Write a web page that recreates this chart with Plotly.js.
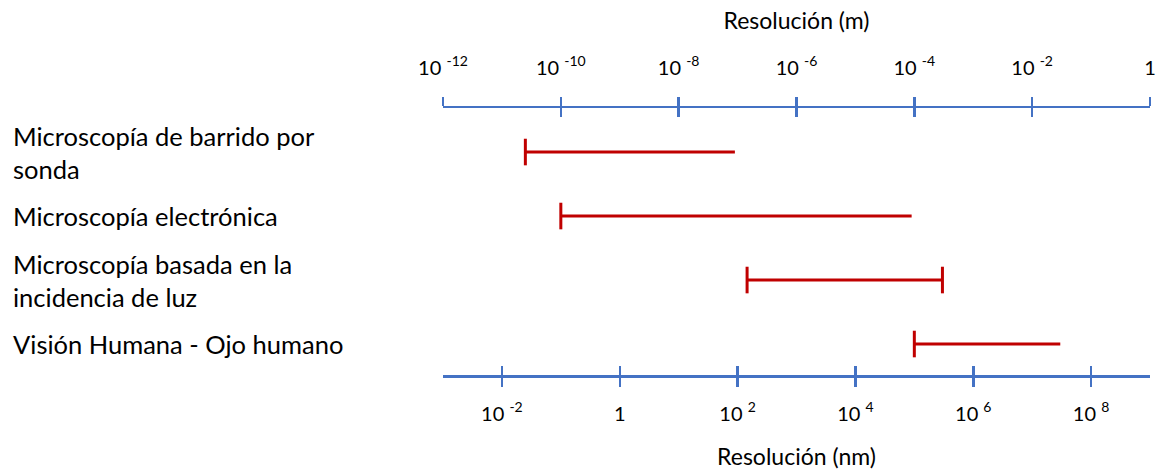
<!DOCTYPE html>
<html>
<head>
<meta charset="utf-8">
<script src="https://cdn.plot.ly/plotly-3.0.1.min.js"></script>
<style>html,body{margin:0;padding:0;background:#fff;}#chart{width:1163px;height:472px;}</style>
</head>
<body>
<div id="chart"></div>
<script>
// ---- data ----
const categories = [
  "Microscopía de barrido por<br>sonda",
  "Microscopía electrónica",
  "Microscopía basada en la<br>incidencia de luz",
  "Visión Humana - Ojo humano"
];
const resMin_m = [2.5e-11, 1e-10, 1.45e-7, 1e-4];
const resMax_m = [9e-8, 9e-5, 3e-4, 3e-2];
const capAtMax = [false, false, true, false];

const tickVals_m = [1e-12, 1e-10, 1e-8, 1e-6, 1e-4, 1e-2, 1];
const tickText_m = ["10 <sup>-12</sup>", "10 <sup>-10</sup>", "10 <sup>-8</sup>", "10 <sup>-6</sup>", "10 <sup>-4</sup>", "10 <sup>-2</sup>", "1"];
const tickVals_nm = [1e-2, 1, 1e2, 1e4, 1e6, 1e8];
const tickText_nm = ["10 <sup>-2</sup>", "1", "10 <sup>2</sup>", "10 <sup>4</sup>", "10 <sup>6</sup>", "10 <sup>8</sup>"];

// ---- style ----
const BLUE = "#4472C4";
const RED = "#C00000";
const FONT = "Lato, 'Open Sans', sans-serif";

const traces = [];
categories.forEach((c, i) => {
  traces.push({
    type: "scatter", mode: "lines", xaxis: "x", yaxis: "y",
    x: [resMin_m[i], resMax_m[i]], y: [c, c],
    line: {color: RED, width: 3}, hoverinfo: "skip", showlegend: false
  });
});
const capX = [], capY = [];
categories.forEach((c, i) => {
  capX.push(resMin_m[i]); capY.push(c);
  if (capAtMax[i]) { capX.push(resMax_m[i]); capY.push(c); }
});
traces.push({
  type: "scatter", mode: "markers", xaxis: "x", yaxis: "y",
  x: capX, y: capY,
  marker: {symbol: "line-ns", size: 19, color: RED, line: {color: RED, width: 3}},
  hoverinfo: "skip", showlegend: false
});
// empty traces so the overlay axes are registered
["x2", "x3", "x4"].forEach(ax => traces.push({
  type: "scatter", mode: "markers", xaxis: ax, yaxis: "y", x: [], y: [],
  hoverinfo: "skip", showlegend: false
}));

const tickCommon = {ticklen: 9, tickwidth: 2.5, tickcolor: BLUE, showgrid: false, zeroline: false, fixedrange: true};
const M_RANGE = [-12, 0], NM_RANGE = [-3, 9];

const layout = {
  width: 1163, height: 472,
  margin: {l: 443, r: 13, t: 108, b: 97},
  paper_bgcolor: "#fff", plot_bgcolor: "rgba(0,0,0,0)",
  font: {family: FONT, color: "#000", size: 18},
  showlegend: false,
  // metres, top
  xaxis: Object.assign({
    type: "log", range: M_RANGE, side: "top", anchor: "y",
    tickmode: "array", tickvals: tickVals_m, ticktext: tickText_m, ticks: "outside",
    showline: true, linecolor: BLUE, linewidth: 2.5,
    tickfont: {size: 20}, ticklabelstandoff: 14,
    title: {text: "Resolución (m)", font: {size: 23}, standoff: 16}
  }, tickCommon),
  xaxis3: Object.assign({
    type: "log", range: M_RANGE, side: "top", anchor: "y", overlaying: "x",
    tickmode: "array", tickvals: tickVals_m, ticks: "inside",
    showticklabels: false, showline: false
  }, tickCommon),
  // nanometres, bottom
  xaxis2: Object.assign({
    type: "log", range: NM_RANGE, side: "bottom", anchor: "y", overlaying: "x",
    tickmode: "array", tickvals: tickVals_nm, ticktext: tickText_nm, ticks: "outside",
    showline: true, linecolor: BLUE, linewidth: 2.5,
    tickfont: {size: 20}, ticklabelstandoff: 10,
    title: {text: "Resolución (nm)", font: {size: 23}, standoff: 26}
  }, tickCommon),
  xaxis4: Object.assign({
    type: "log", range: NM_RANGE, side: "bottom", anchor: "y", overlaying: "x",
    tickmode: "array", tickvals: tickVals_nm, ticks: "inside",
    showticklabels: false, showline: false
  }, tickCommon),
  yaxis: {
    type: "category", categoryorder: "array", categoryarray: categories,
    range: [3.484, -0.688], autorange: false, fixedrange: true,
    showticklabels: false, showline: false, showgrid: false, zeroline: false, ticks: ""
  },
  annotations: categories.map(c => ({
    xref: "paper", yref: "y", x: -0.611, y: c,
    xanchor: "left", yanchor: "middle", align: "left",
    text: c, showarrow: false, font: {size: 25.5, color: "#000"}
  }))
};

Plotly.newPlot("chart", traces, layout, {displayModeBar: false, staticPlot: true});
</script>
</body>
</html>
